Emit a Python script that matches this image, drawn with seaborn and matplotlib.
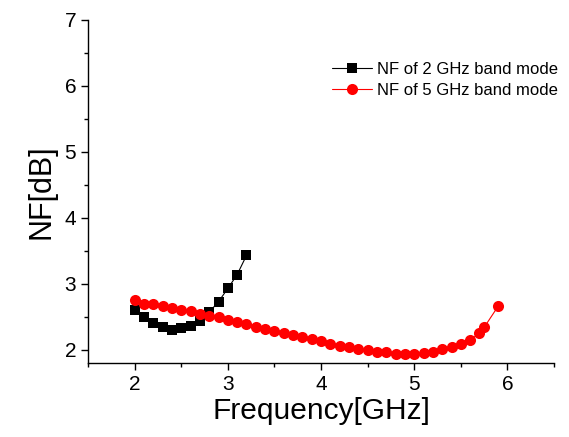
import numpy as np
import pandas as pd
import matplotlib
matplotlib.use("Agg")
import matplotlib.pyplot as plt
from matplotlib.ticker import MultipleLocator
import seaborn as sns

# NF of 2 GHz band mode
freq_2g = [2.0, 2.1, 2.2, 2.3, 2.4, 2.5, 2.6, 2.7, 2.8, 2.9, 3.0, 3.1, 3.2]
nf_2g = [2.61, 2.50, 2.40, 2.34, 2.30, 2.33, 2.36, 2.44, 2.57, 2.73, 2.93, 3.14, 3.43]

# NF of 5 GHz band mode
freq_5g = [2.0, 2.1, 2.2, 2.3, 2.4, 2.5, 2.6, 2.7, 2.8, 2.9,
           3.0, 3.1, 3.2, 3.3, 3.4, 3.5, 3.6, 3.7, 3.8, 3.9,
           4.0, 4.1, 4.2, 4.3, 4.4, 4.5, 4.6, 4.7, 4.8, 4.9,
           5.0, 5.1, 5.2, 5.3, 5.4, 5.5, 5.6, 5.7, 5.75, 5.9]
nf_5g = [2.76, 2.70, 2.69, 2.66, 2.63, 2.61, 2.59, 2.55, 2.52, 2.50,
         2.45, 2.42, 2.39, 2.35, 2.32, 2.29, 2.25, 2.22, 2.20, 2.17,
         2.13, 2.09, 2.06, 2.04, 2.01, 2.00, 1.97, 1.96, 1.94, 1.93,
         1.94, 1.95, 1.97, 2.01, 2.04, 2.09, 2.15, 2.25, 2.34, 2.66]

sns.set_style("ticks")
plt.rcParams["font.family"] = ["Liberation Sans", "DejaVu Sans"]
plt.rcParams["text.color"] = "black"
plt.rcParams["axes.labelcolor"] = "black"
plt.rcParams["xtick.color"] = "black"
plt.rcParams["ytick.color"] = "black"

fig = plt.figure(figsize=(5.69, 4.37), dpi=100)
ax = fig.add_axes([0.1547, 0.1693, 0.819, 0.785])

sns.lineplot(x=freq_2g, y=nf_2g, ax=ax, color="black", marker="s", markersize=7,
             markeredgewidth=0, linewidth=0.8, label="NF of 2 GHz band mode")
sns.lineplot(x=freq_5g, y=nf_5g, ax=ax, color="red", marker="o", markersize=8,
             markeredgewidth=0, linewidth=0.8, label="NF of 5 GHz band mode")

ax.set_xlim(1.5, 6.5)
ax.set_ylim(1.8, 7)
ax.xaxis.set_major_locator(MultipleLocator(1))
ax.xaxis.set_minor_locator(MultipleLocator(0.5))
ax.yaxis.set_major_locator(MultipleLocator(1))
ax.yaxis.set_minor_locator(MultipleLocator(0.5))
ax.tick_params(which="major", direction="out", length=5, width=1, labelsize=15)
ax.tick_params(which="minor", direction="out", length=3, width=1)
sns.despine(ax=ax)
for s in ["left", "bottom"]:
    ax.spines[s].set_color("black")
    ax.spines[s].set_linewidth(1)

ax.set_xlabel("Frequency[GHz]", fontsize=21.5, labelpad=2)
ax.set_ylabel("NF[dB]", fontsize=22, labelpad=6)

ax.legend(loc="upper right", bbox_to_anchor=(1.04, 0.922), frameon=False, fontsize=12,
          handlelength=2.4, handletextpad=0.3, labelspacing=0.35)

fig.savefig("out.png", dpi=100)
